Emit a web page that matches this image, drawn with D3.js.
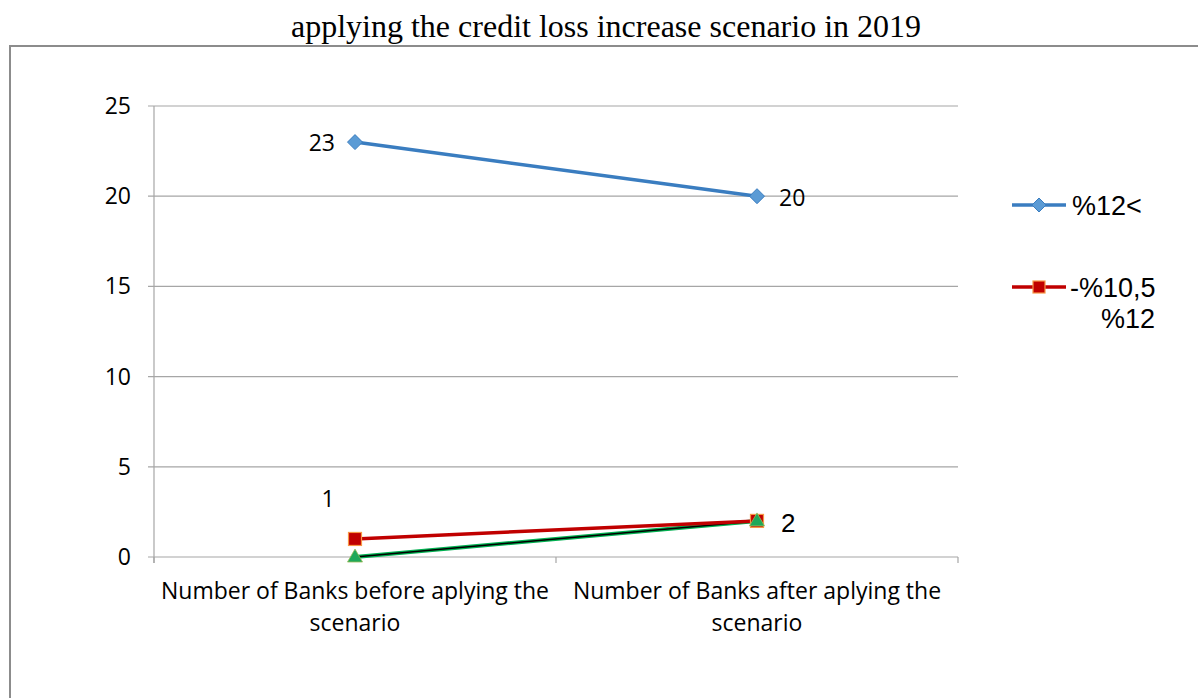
<!DOCTYPE html>
<html><head><meta charset="utf-8">
<script src="https://cdn.jsdelivr.net/npm/d3@7"></script>
<style>body{margin:0;background:#fff}svg{display:block}</style>
</head><body>
<svg id="c" width="1198" height="698"></svg>
<script>
const categories = [["Number of Banks before aplying the","scenario"],["Number of Banks after aplying the","scenario"]];
const seriesNames = ["%12<", "-%10,5 %12", ""];
const blueValues = [23, 20];
const redValues = [1, 2];
const greenValues = [0, 2];
const yTicks = [0, 5, 10, 15, 20, 25];
const title = "applying the credit loss increase scenario in 2019";

const svg = d3.select("#c");
const font = "'Open Sans', 'Liberation Sans', sans-serif";
const afont = "'Liberation Sans', Arial, sans-serif";

// outer frame
svg.append("path").attr("d","M10,698 V46 H1198").attr("fill","none").attr("stroke","#8c8c8c").attr("stroke-width",2);

svg.append("text").attr("x",606).attr("y",37).attr("text-anchor","middle")
  .attr("font-family","'Liberation Serif','Times New Roman',serif").attr("font-size",32).text(title);

const x = d3.scaleBand().domain([0,1]).range([154,958]);
const y = d3.scaleLinear().domain([0,25]).range([557,106]);
const cx = i => x(i) + x.bandwidth()/2;

// gridlines
svg.append("g").selectAll("line").data(yTicks).join("line")
  .attr("x1",148).attr("x2",958).attr("y1",d=>y(d)).attr("y2",d=>y(d))
  .attr("stroke","#a6a6a6").attr("stroke-width",1.2);
// y axis line
svg.append("line").attr("x1",154).attr("x2",154).attr("y1",y(25)).attr("y2",y(0)+6).attr("stroke","#a6a6a6").attr("stroke-width",1.2);
// x ticks
svg.append("g").selectAll("line").data([154, 556, 958]).join("line")
  .attr("x1",d=>d).attr("x2",d=>d).attr("y1",y(0)).attr("y2",y(0)+6).attr("stroke","#a6a6a6").attr("stroke-width",1.2);

svg.append("g").selectAll("text").data(yTicks).join("text")
  .attr("x",131).attr("y",d=>y(d)+8).attr("text-anchor","end")
  .attr("font-family",font).attr("font-size",23).text(d=>d);

const xl = svg.append("g").selectAll("text").data(categories).join("text")
  .attr("text-anchor","middle").attr("font-family",font).attr("font-size",23);
xl.each(function(d,i){
  const t=d3.select(this);
  d.forEach((s,k)=>t.append("tspan").attr("x",cx(i)).attr("y",599+k*32).text(s));
});

const line = d3.line().x((d,i)=>cx(i)).y(d=>y(d));
// green series
svg.append("path").attr("d",line(greenValues)).attr("fill","none").attr("stroke","#00b050").attr("stroke-width",4);
svg.append("path").attr("d",line(greenValues)).attr("fill","none").attr("stroke","#000").attr("stroke-width",1.5);
// red series
svg.append("path").attr("d",line(redValues)).attr("fill","none").attr("stroke","#c00000").attr("stroke-width",3.5);
// blue series
svg.append("path").attr("d",line(blueValues)).attr("fill","none").attr("stroke","#3a7dc0").attr("stroke-width",3.5);

// markers
svg.append("g").selectAll("rect").data(redValues).join("rect")
  .attr("x",(d,i)=>cx(i)-6.5).attr("y",d=>y(d)-6.5).attr("width",13).attr("height",13)
  .attr("fill","#c00000").attr("stroke","#f79646").attr("stroke-width",1.2);
svg.append("g").selectAll("path").data(greenValues).join("path")
  .attr("d",(d,i)=>{const px=cx(i),py=y(d);return `M${px},${py-8} L${px+7.5},${py+5} L${px-7.5},${py+5} Z`;})
  .attr("fill","#1fa85a").attr("stroke","#9bbb59").attr("stroke-width",0.8);
svg.append("g").selectAll("path").data(blueValues).join("path")
  .attr("d",(d,i)=>{const px=cx(i),py=y(d);return `M${px},${py-7.5} L${px+7.5},${py} L${px},${py+7.5} L${px-7.5},${py} Z`;})
  .attr("fill","#5b9bd5").attr("stroke","#3a7dc0").attr("stroke-width",1);

// data labels
svg.append("text").attr("x",cx(0)-20).attr("y",y(blueValues[0])+9).attr("text-anchor","end").attr("font-family",font).attr("font-size",23).text(blueValues[0]);
svg.append("text").attr("x",cx(1)+22).attr("y",y(blueValues[1])+10).attr("text-anchor","start").attr("font-family",font).attr("font-size",23).text(blueValues[1]);
svg.append("text").attr("x",cx(0)-27).attr("y",y(redValues[0])-32).attr("text-anchor","middle").attr("font-family",font).attr("font-size",23).text(redValues[0]);
svg.append("text").attr("x",cx(1)+24).attr("y",y(redValues[1])+11).attr("text-anchor","start").attr("font-family",afont).attr("font-size",26).text(redValues[1]);

// legend
const lg = svg.append("g");
lg.append("line").attr("x1",1012).attr("x2",1066).attr("y1",205).attr("y2",205).attr("stroke","#3a7dc0").attr("stroke-width",3.5);
lg.append("path").attr("d","M1039,198 L1046,205 L1039,212 L1032,205 Z").attr("fill","#5b9bd5").attr("stroke","#3a7dc0");
lg.append("text").attr("x",1072).attr("y",215).attr("font-family",afont).attr("font-size",27).text(seriesNames[0]);
lg.append("line").attr("x1",1012).attr("x2",1066).attr("y1",287).attr("y2",287).attr("stroke","#c00000").attr("stroke-width",3.5);
lg.append("rect").attr("x",1033).attr("y",281).attr("width",12).attr("height",12).attr("fill","#c00000").attr("stroke","#f79646").attr("stroke-width",1.2);
const parts = seriesNames[1].split(" ");
lg.append("text").attr("x",1070).attr("y",297).attr("font-family",afont).attr("font-size",27).text(parts[0]);
lg.append("text").attr("x",1155).attr("y",328).attr("text-anchor","end").attr("font-family",afont).attr("font-size",27).text(parts[1]);
</script>
</body></html>
